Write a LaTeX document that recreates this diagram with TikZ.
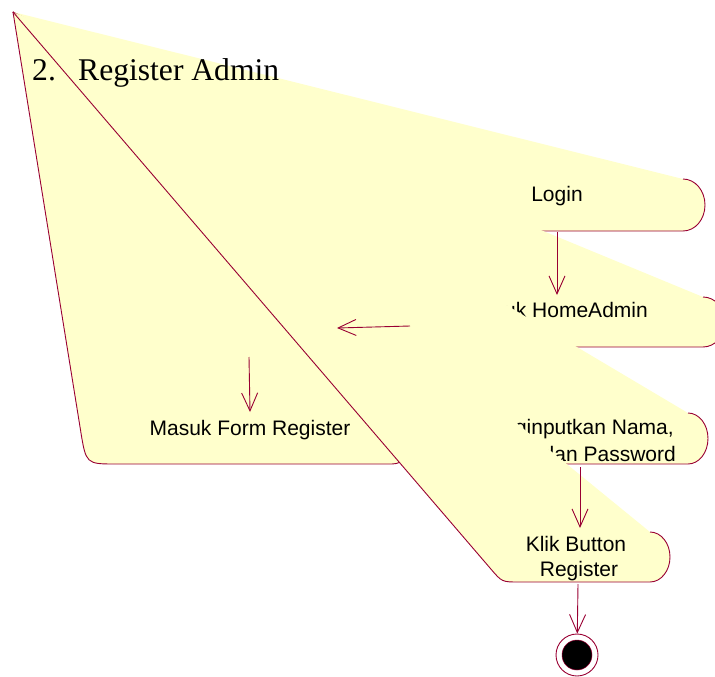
\documentclass[tikz,border=0pt]{standalone}
\usepackage{fontspec}
\setmainfont{Liberation Sans}
\newfontfamily\titlefont{Liberation Serif}
\usetikzlibrary{arrows.meta,calc}
\definecolor{actfill}{RGB}{255,255,204}
\definecolor{actline}{RGB}{153,0,51}

\begin{document}
\begin{tikzpicture}[x=1pt,y=-1pt,
  act/.style={fill=actfill},
  edge/.style={draw=actline,line width=0.9pt,line join=round},
  lbl/.style={inner sep=0pt,font=\fontsize{21}{25}\selectfont},
  ttl/.style={inner sep=0pt,anchor=base west,font=\titlefont\fontsize{31.6}{36}\selectfont},
  flow/.style={draw=actline,line width=0.9pt,-{Straight Barb[length=18pt,width=16pt]}},
]
\useasboundingbox (0,0) rectangle (715,677);
\clip (0,0) rectangle (715,677);

% common collapsed corner of all activity outlines
\coordinate (apex) at (13,12);

% Login
\fill[act] (apex) -- (683,179) arc[start angle=-90,end angle=90,x radius=22,y radius=26] -- (430,231) -- cycle;
\draw[edge] (683,179) arc[start angle=-90,end angle=90,x radius=22,y radius=26] -- (430,231) -- (apex);
\node[lbl,anchor=base] (login) at (557,201) {Login};

% Masuk HomeAdmin
\fill[act] (apex) -- (703,297) arc[start angle=-90,end angle=90,x radius=22,y radius=25] -- (395,347) -- cycle;
\draw[edge] (703,297) arc[start angle=-90,end angle=90,x radius=22,y radius=25] -- (395,347) -- (apex);
\node[lbl,anchor=base east] (home) at (648,317) {Masuk HomeAdmin};

% Menginputkan data
\fill[act] (apex) -- (688,413) arc[start angle=-90,end angle=90,x radius=20,y radius=25.5] -- (448,464) -- cycle;
\draw[edge] (688,413) arc[start angle=-90,end angle=90,x radius=20,y radius=25.5] -- (448,464) -- (apex);
\node[lbl,anchor=base east] (input1) at (674,434) {Menginputkan Nama,};
\node[lbl,anchor=base east] (input2) at (676,461) {Email dan Password};

% Masuk Form Register
\coordinate (mfC) at (86,464);
\coordinate (mfR) at (392,464);
\coordinate (mfA) at ($(mfC)!30pt!(mfR)$);
\coordinate (mfB) at ($(mfC)!34pt!(apex)$);
\fill[act] (apex) -- (392,413) arc[start angle=-90,end angle=90,x radius=22,y radius=25.5]
  -- (mfA) .. controls (mfC) .. (mfB) -- cycle;
\draw[edge] (392,413) arc[start angle=-90,end angle=90,x radius=22,y radius=25.5]
  -- (mfA) .. controls (mfC) .. (mfB) -- (apex);
\node[lbl,anchor=base] (form) at (250,435) {Masuk Form Register};

% Klik Button Register
\coordinate (kbC) at (502,582);
\coordinate (kbR) at (650,582);
\coordinate (kbA) at ($(kbC)!17pt!(kbR)$);
\coordinate (kbB) at ($(kbC)!17pt!(apex)$);
\fill[act] (apex) -- (650,532) arc[start angle=-90,end angle=90,x radius=20,y radius=25]
  -- (kbA) .. controls (kbC) .. (kbB) -- cycle;
\draw[edge] (650,532) arc[start angle=-90,end angle=90,x radius=20,y radius=25]
  -- (kbA) .. controls (kbC) .. (kbB) -- (apex);
\node[lbl,anchor=base] (klik1) at (576,551) {Klik Button};
\node[lbl,anchor=base] (klik2) at (579,576) {Register};

% title
\node[ttl] (num) at (32,81) {2.};
\node[ttl] (title) at (78,81) {Register Admin};

% final state
\node[circle,draw=actline,fill=white,line width=0.9pt,minimum size=42pt,inner sep=0pt] (end) at (577,655) {};
\node[circle,draw=actline,fill=black,line width=0.5pt,minimum size=30pt,inner sep=0pt] (endDot) at (end.center) {};

% transitions
\coordinate (t1s) at (557,232);
\coordinate (t1e) at (557,295);
\coordinate (t2s) at (410,326);
\coordinate (t2e) at (337,328);
\coordinate (t3s) at (249,357);
\coordinate (t3e) at (250,412);
\coordinate (t4s) at (580,467);
\coordinate (t4e) at (580,528);
\coordinate (t5s) at (578,584);
\draw[flow] (t1s) -- (t1e);
\draw[flow] (t2s) -- (t2e);
\draw[flow] (t3s) -- (t3e);
\draw[flow] (t4s) -- (t4e);
\draw[flow] (t5s) -- (end);
\end{tikzpicture}
\end{document}
